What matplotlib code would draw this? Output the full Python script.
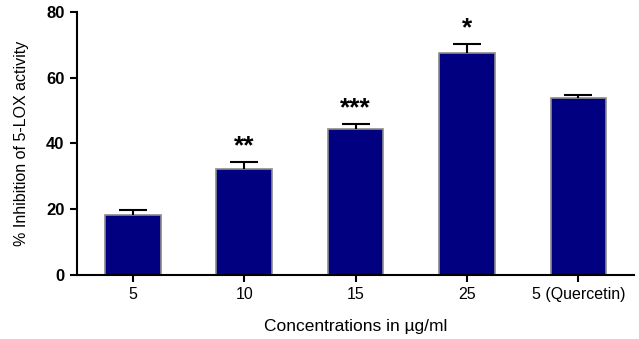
"""5-LOX inhibition bar chart with SEM error bars and significance marks."""

import numpy as np
import matplotlib.pyplot as plt

plt.rcParams["font.family"] = ["Liberation Sans", "DejaVu Sans"]

concentrations = ["5", "10", "15", "25", "5 (Quercetin)"]
inhibition = [18.2, 32.3, 44.4, 67.6, 53.8]
sem = [1.6, 2.0, 1.5, 2.5, 1.0]
stars = ["", "**", "***", "*", ""]

fig = plt.figure(figsize=(6.39, 3.39), dpi=100)
ax = fig.add_axes([0.1205, 0.189, 0.872, 0.776])

x = np.arange(len(concentrations))
ax.bar(x, inhibition, width=0.5, color="#000080", edgecolor="#8c8c8c", linewidth=1.2, zorder=2)
# upper-only error bars: hide the cap sitting on the bar top
_, caps, _ = ax.errorbar(x, inhibition, yerr=[np.zeros(len(sem)), sem], fmt="none",
                         ecolor="black", elinewidth=1.5, capsize=10, capthick=1.5, zorder=3)
caps[0].set_visible(False)

for xi, h, e, s in zip(x, inhibition, sem, stars):
    if s:
        ax.text(xi, h + e + 1.2, s, ha="center", va="bottom", fontsize=19, fontweight="bold")

ax.set_xlim(-0.5, 4.5)
ax.set_ylim(0, 80)
ax.set_yticks([0, 20, 40, 60, 80])
ax.set_xticks(x)
ax.set_xticklabels(concentrations, fontsize=11.5)
for lbl in ax.get_yticklabels():
    lbl.set_fontsize(12)
    lbl.set_fontweight("bold")

ax.spines["top"].set_visible(False)
ax.spines["right"].set_visible(False)
ax.spines["left"].set_linewidth(1.5)
ax.spines["bottom"].set_linewidth(1.5)
ax.tick_params(direction="out", length=5, width=1.5, pad=4)

ax.set_ylabel("% Inhibition of 5-LOX activity", fontsize=11.5, labelpad=12)
ax.set_xlabel("Concentrations in \u00b5g/ml", fontsize=12.5, labelpad=12)

fig.savefig("out.png", dpi=100)
